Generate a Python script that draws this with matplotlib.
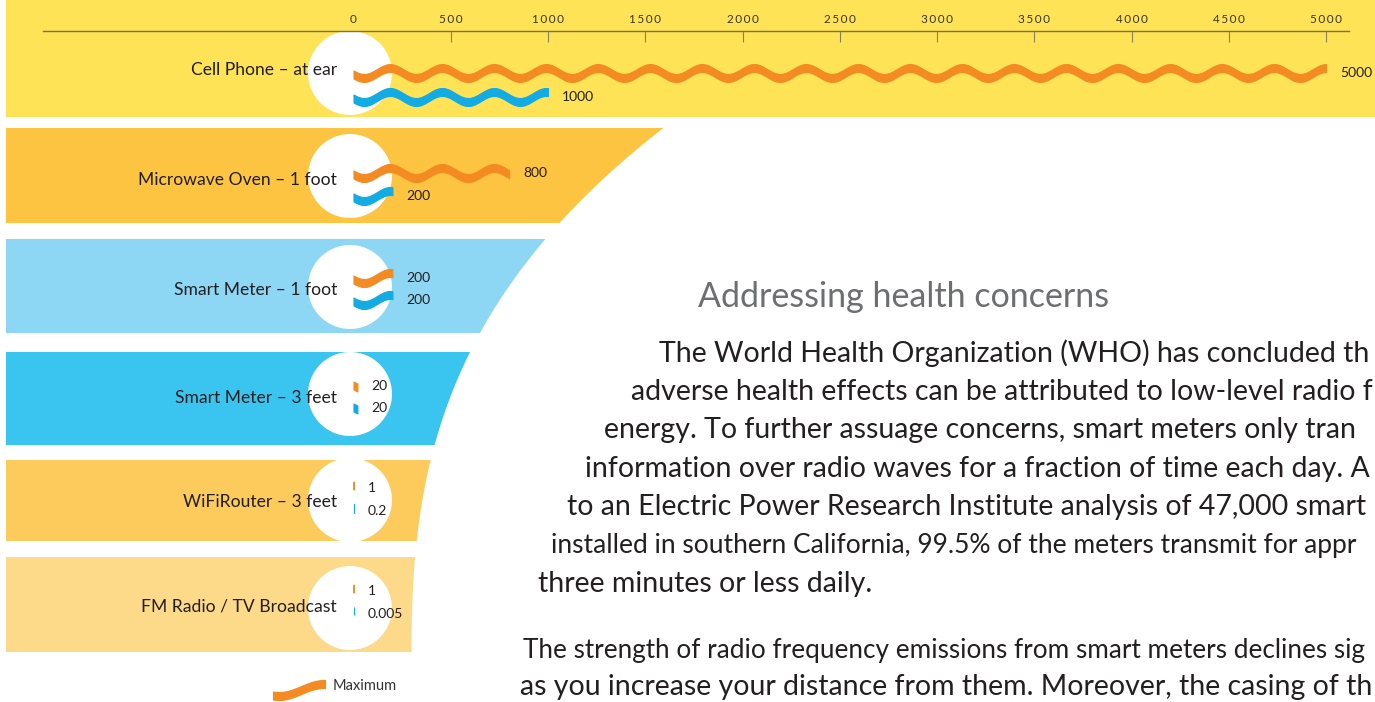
import numpy as np
import matplotlib.pyplot as plt
from matplotlib.patches import Ellipse, Polygon
from matplotlib.ticker import FuncFormatter

# data
categories = ["Cell Phone – at ear", "Microwave Oven – 1 foot", "Smart Meter – 1 foot",
              "Smart Meter – 3 feet", "WiFiRouter – 3 feet", "FM Radio / TV Broadcast"]
max_vals = [5000, 800, 200, 20, 1, 1]
avg_vals = [1000, 200, 200, 20, 0.2, 0.005]
max_labels = ["5000", "800", "200", "20", "1", "1"]
avg_labels = ["1000", "200", "200", "20", "0.2", "0.005"]
tick_vals = [0, 500, 1000, 1500, 2000, 2500, 3000, 3500, 4000, 4500, 5000]

heading = "Addressing health concerns"
body_lines = [
    "The World Health Organization (WHO) has concluded th",
    "adverse health effects can be attributed to low-level radio f",
    "energy. To further assuage concerns, smart meters only tran",
    "information over radio waves for a fraction of time each day. A",
    "to an Electric Power Research Institute analysis of 47,000 smart",
    "installed in southern California, 99.5% of the meters transmit for appr",
    "three minutes or less daily.",
    "The strength of radio frequency emissions from smart meters declines sig",
    "as you increase your distance from them. Moreover, the casing of th",
]

# layout (pixels)
W, H = 1375, 702
band_top = [0, 128, 239, 352, 460, 557]
band_bot = [117, 223, 333, 445, 541, 652]
band_col = ["#FFE357", "#FDC441", "#8DD7F5", "#3AC5F1", "#FDCA5C", "#FDD98A"]
circle_y = [73, 176, 287, 394, 500, 608]
label_y = [70, 180, 290, 398, 502, 607]
max_y = [73, 173, 278, 384, 484, 587]
avg_y = [97, 196, 300, 406, 507, 610]
lab_dy = [0, 0, 0, 2, 4, 4]
body_x = [659, 631, 604, 585, 567, 551, 538, 523, 520]
body_base = [362, 400, 438, 477, 515, 553, 592, 658, 695]
body_fs = [20.5, 20.5, 20.5, 20.5, 20.5, 19, 20.5, 18.8, 20.5]

ORANGE = "#F48B22"
BLUE = "#13ABE3"
INK = "#231F20"
FONT = ["Lato", "DejaVu Sans"]

zero_px, five_px = 353.5, 1326.0
ppu = (five_px - zero_px) / 5000.0
AMP, THICK, PERIOD = 5.0, 8.0, 52.0

fig = plt.figure(figsize=(W / 100, H / 100), dpi=100)
bg = fig.add_axes([0, 0, 1, 1])
bg.set_xlim(0, W)
bg.set_ylim(H, 0)
bg.axis("off")

# funnel edge on the right of the lower bands
ey = [128, 223, 239, 333, 352, 445, 460, 541, 557, 652]
ex = [664, 558, 545, 481, 471, 435, 430, 418, 413, 412]
coef = np.polyfit(ey, ex, 3)

for i in range(len(categories)):
    t, b = band_top[i], band_bot[i]
    if i == 0:
        verts = [(6, t), (W, t), (W, b), (6, b)]
    else:
        ys = np.linspace(t, b, 40)
        xs = np.polyval(coef, ys)
        verts = [(6, t)] + list(zip(xs, ys)) + [(6, b)]
    bg.add_patch(Polygon(verts, closed=True, facecolor=band_col[i], edgecolor="none", zorder=1))
    bg.add_patch(Ellipse((350, circle_y[i]), 84, 84, facecolor="white", edgecolor="none", zorder=2))
    bg.text(337, label_y[i], categories[i], ha="right", va="center", fontsize=12.6,
            family=FONT, color=INK, zorder=5)

# value axes overlaid on the whole figure
ax = fig.add_axes([0, 0, 1, 1])
ax.patch.set_alpha(0)
ax.set_xlim(-zero_px / ppu, (W - zero_px) / ppu)
ax.set_ylim(H, 0)
for s in ["bottom", "left", "right"]:
    ax.spines[s].set_visible(False)
ax.spines["top"].set_position(("data", 30.7))
ax.spines["top"].set_bounds((43 - zero_px) / ppu, (1349 - zero_px) / ppu)
ax.spines["top"].set_color("#7A7246")
ax.spines["top"].set_linewidth(1.0)
ax.set_yticks([])
ax.xaxis.tick_top()
ax.set_xticks(tick_vals)
ax.xaxis.set_major_formatter(FuncFormatter(lambda v, p: "\u2009".join(str(int(v)))))
ax.tick_params(axis="x", direction="in", length=8, width=0.8, color="#8A8152",
               labelsize=8.5, labelcolor="#3A3526", pad=4)
for lab in ax.get_xticklabels():
    lab.set_family(FONT)
ax.xaxis.get_major_ticks()[0].tick2line.set_visible(False)


def wave(axis, x0, x1, yc, color, scale=1.0, period=PERIOD, phase=0.3, thick=THICK, amp=AMP):
    xs = np.linspace(x0, x1, 300)
    px = (xs - x0) * scale
    y = yc + amp * np.sin(2 * np.pi * px / period + phase)
    axis.fill_between(xs, y - thick / 2, y + thick / 2, facecolor=color,
                      edgecolor=color, linewidth=0.8, zorder=4)


for i in range(len(categories)):
    wave(ax, 0, max_vals[i], max_y[i], ORANGE, ppu)
    wave(ax, 0, avg_vals[i], avg_y[i], BLUE, ppu)
    ax.text(max_vals[i] + 14 / ppu, max_y[i] + lab_dy[i], max_labels[i], ha="left", va="center",
            fontsize=10, family=FONT, color=INK, zorder=6)
    ax.text(avg_vals[i] + 14 / ppu, avg_y[i] + lab_dy[i], avg_labels[i], ha="left", va="center",
            fontsize=10, family=FONT, color=INK, zorder=6)

# legend
wave(bg, 273, 325, 690, ORANGE, period=90, phase=np.pi / 2 - 0.4, thick=8, amp=6)
bg.text(333, 686, "Maximum", ha="left", va="center", fontsize=10.5, family=FONT, color="#333333")

# text block
bg.text(698, 307, heading, ha="left", va="baseline", fontsize=24.5, family=FONT, color="#6D6E71")
for i, line in enumerate(body_lines):
    bg.text(body_x[i], body_base[i], line, ha="left", va="baseline",
            fontsize=body_fs[i], family=FONT, color=INK)

fig.savefig("out.png", dpi=100)
